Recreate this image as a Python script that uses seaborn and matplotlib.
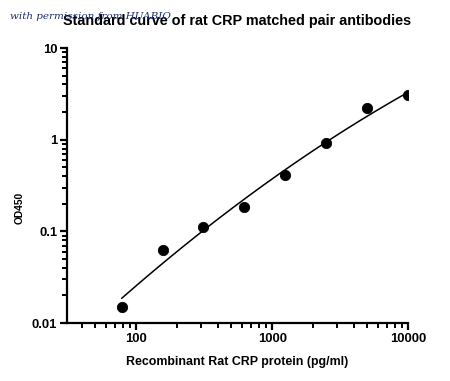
import numpy as np
import pandas as pd
import matplotlib
matplotlib.use("Agg")
import matplotlib.pyplot as plt
import seaborn as sns
from matplotlib.ticker import LogLocator, FixedFormatter, FixedLocator, NullFormatter

# dados
concentracao = [78.125, 156.25, 312.5, 625, 1250, 2500, 5000, 10000]
od450 = [0.0151, 0.0627, 0.1125, 0.186, 0.412, 0.927, 2.2, 3.07]
x_ticks = [100, 1000, 10000]
x_tick_labels = ["100", "1000", "10000"]
y_ticks = [0.01, 0.1, 1, 10]
y_tick_labels = ["0.01", "0.1", "1", "10"]

df = pd.DataFrame({"conc": concentracao, "od": od450})

# curva ajustada (quadrática em log-log)
coef = np.polyfit(np.log10(df["conc"]), np.log10(df["od"]), 2)
xs = np.logspace(np.log10(min(concentracao)), np.log10(max(concentracao)), 200)
curva = pd.DataFrame({"conc": xs, "od": 10 ** np.polyval(coef, np.log10(xs))})

sns.set_style("ticks")
plt.rcParams["font.family"] = ["Liberation Sans", "DejaVu Sans"]
plt.rcParams["text.color"] = "black"

fig = plt.figure(figsize=(4.5, 3.81), dpi=100)
ax = fig.add_axes([0.149, 0.152, 0.758, 0.722])

sns.lineplot(data=curva, x="conc", y="od", color="black", linewidth=1.1, ax=ax)
sns.scatterplot(data=df, x="conc", y="od", color="black", s=55, edgecolor="black", ax=ax, zorder=3)

ax.set_xscale("log")
ax.set_yscale("log")
ax.set_xlim(31, 10000)
ax.set_ylim(0.01, 10)

ax.xaxis.set_major_locator(FixedLocator(x_ticks))
ax.xaxis.set_major_formatter(FixedFormatter(x_tick_labels))
ax.yaxis.set_major_locator(FixedLocator(y_ticks))
ax.yaxis.set_major_formatter(FixedFormatter(y_tick_labels))
ax.xaxis.set_minor_locator(LogLocator(base=10, subs=np.arange(2, 10)))
ax.yaxis.set_minor_locator(LogLocator(base=10, subs=np.arange(2, 10)))
ax.xaxis.set_minor_formatter(NullFormatter())
ax.yaxis.set_minor_formatter(NullFormatter())

for lado in ["top", "right"]:
    ax.spines[lado].set_visible(False)
for lado in ["left", "bottom"]:
    ax.spines[lado].set_linewidth(1.6)
    ax.spines[lado].set_color("black")

ax.tick_params(which="major", length=5, width=1.6, colors="black", labelsize=9.4, pad=2)
ax.tick_params(which="minor", length=3.5, width=1.4, colors="black")
for lbl in ax.get_xticklabels() + ax.get_yticklabels():
    lbl.set_fontweight("bold")

ax.set_xlabel("Recombinant Rat CRP protein (pg/ml)", fontsize=8.9, fontweight="bold",
              labelpad=8, color="black")
ax.set_ylabel("OD450", fontsize=7.4, fontweight="bold", color="black")
ax.yaxis.set_label_coords(-0.123, 0.42)

fig.text(0.527, 0.945, "Standard curve of rat CRP matched pair antibodies",
         ha="center", va="center", fontsize=10.4, fontweight="bold", color="black")
fig.text(0.022, 0.958, "with permission from HUABIO", ha="left", va="center",
         fontsize=7.5, style="italic", family="DejaVu Serif", color="#1f2f6b")

fig.savefig("out.png", dpi=100)
